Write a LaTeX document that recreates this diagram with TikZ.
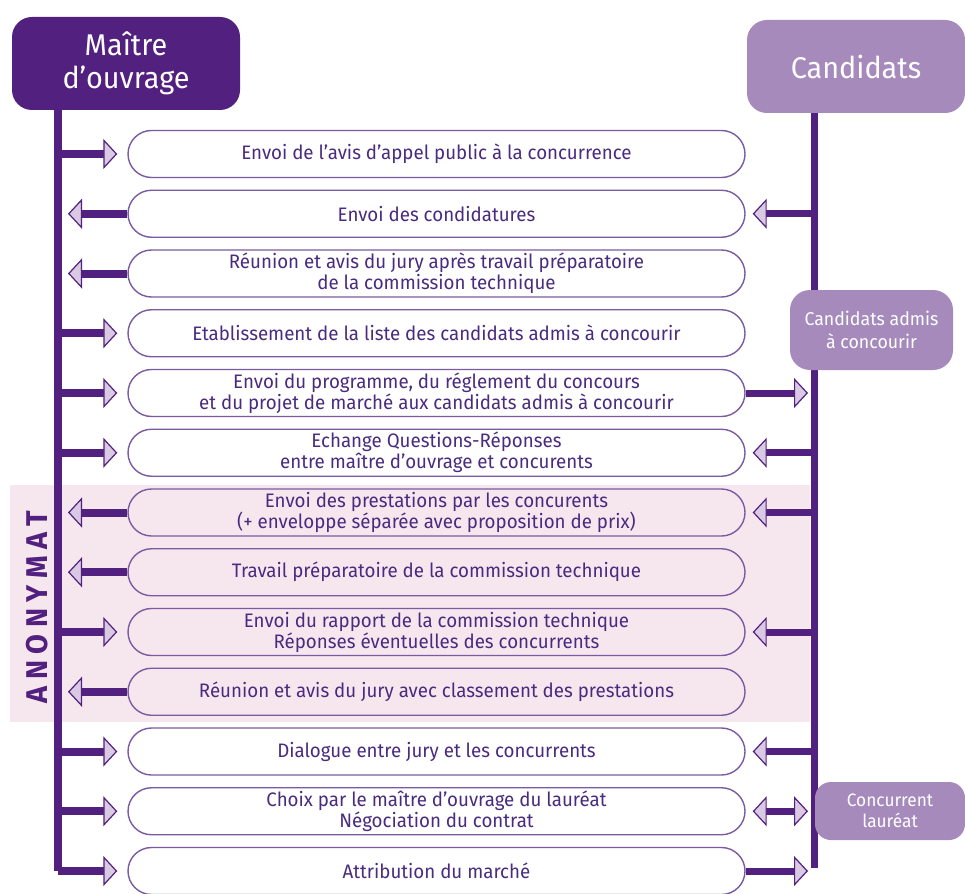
\documentclass[tikz,border=0pt]{standalone}
\usepackage{fontspec}
\setmainfont{Fira Sans}[FakeStretch=0.96]
\usetikzlibrary{arrows.meta}
\definecolor{dpurple}{RGB}{82,33,127}
\definecolor{lpurple}{RGB}{166,138,188}
\definecolor{tipfill}{RGB}{217,201,226}
\definecolor{pinkbg}{RGB}{246,231,239}
\definecolor{boxline}{RGB}{122,90,160}
\definecolor{textc}{RGB}{74,43,127}
\begin{document}
\begin{tikzpicture}[x=1pt,y=-1pt,
  stepbox/.style={draw=boxline, line width=1.4pt, fill=white, rounded corners=23.5pt,
    minimum width=617pt, minimum height=47pt, inner sep=0pt, align=center,
    text=textc, font=\fontsize{19.5}{21}\selectfont},
  pinkbox/.style={stepbox, fill=pinkbg},
  headbox/.style={fill=#1, rounded corners=20pt, inner sep=0pt, align=center,
    text=white, font=\fontsize{30}{33}\selectfont},
  conn/.style={draw=dpurple, line width=8pt},
  connr/.style={draw=dpurple, line width=7pt},
  tip/.tip={Triangle[length=14pt,width=30pt,fill=tipfill,line width=1.2pt]},
  arr/.style={-{tip}},
  dblarr/.style={{tip}-{tip}}
]
\useasboundingbox (0,0) rectangle (965,893);

% anonymat band
\fill[pinkbg] (10,485) rectangle (810,722);
\node[rotate=90, text=dpurple, font=\fontsize{30}{30}\selectfont\bfseries] (anon) at (37,607)
  {A\kern6.5pt N\kern6.5pt O\kern6.5pt N\kern6.5pt Y\kern6.5pt M\kern6.5pt A\kern6.5pt T};

% headers
\node[headbox=dpurple, minimum width=228pt, minimum height=93pt] (mo) at (126,63.5)
  {Maître\\d'ouvrage};
\node[headbox=lpurple, minimum width=218pt, minimum height=93pt] (cand) at (856,66.5)
  {Candidats};

% lane coordinates
\foreach \k in {1,...,13}{
  \pgfmathsetmacro{\yy}{154+(\k-1)*59.75}
  \coordinate (L\k) at (58,\yy);
  \coordinate (R\k) at (814,\yy);
}

% vertical lines
\draw[conn, line join=miter] (mo.south -| L13) -- (L13);
\draw[connr] (cand.south -| R13) -- ([yshift=3.5pt]R13);

% step boxes
\node[stepbox] (b1) at (436.5,154) {Envoi de l'avis d'appel public à la concurrence};
\node[stepbox] (b2) at (436.5,213.75) {Envoi des condidatures};
\node[stepbox] (b3) at (436.5,273.5) {Réunion et avis du jury après travail préparatoire\\de la commission technique};
\node[stepbox] (b4) at (436.5,333.25) {Etablissement de la liste des candidats admis à concourir};
\node[stepbox] (b5) at (436.5,393) {Envoi du programme, du réglement du concours\\et du projet de marché aux candidats admis à concourir};
\node[stepbox] (b6) at (436.5,452.75) {Echange Questions-Réponses\\entre maître d'ouvrage et concurents};
\node[pinkbox] (b7) at (436.5,512.5) {Envoi des prestations par les concurents\\(+ enveloppe séparée avec proposition de prix)};
\node[pinkbox] (b8) at (436.5,572.25) {Travail préparatoire de la commission technique};
\node[pinkbox] (b9) at (436.5,632) {Envoi du rapport de la commission technique\\Réponses éventuelles des concurrents};
\node[pinkbox] (b10) at (436.5,691.75) {Réunion et avis du jury avec classement des prestations};
\node[stepbox] (b11) at (436.5,751.5) {Dialogue entre jury et les concurrents};
\node[stepbox] (b12) at (436.5,811.25) {Choix par le maître d'ouvrage du lauréat\\Négociation du contrat};
\node[stepbox] (b13) at (436.5,871) {Attribution du marché};

% left connectors: into box
\foreach \k in {1,4,5,6,9,11,12,13}{
  \draw[conn, arr] (L\k) -- ([xshift=-10pt]b\k.west);
}
% left connectors: towards maitre d'ouvrage
\foreach \k in {2,3,7,8,10}{
  \draw[conn, arr] (b\k.west) -- ([xshift=10pt]L\k);
}
% right connectors: from candidats into box
\foreach \k in {2,6,7,9,11}{
  \draw[connr, arr] (R\k) -- ([xshift=7pt]b\k.east);
}
% right connectors: towards candidats
\foreach \k in {5,13}{
  \draw[connr, arr] (b\k.east) -- ([xshift=-6pt]R\k);
}
\draw[connr, dblarr] ([xshift=7pt]b12.east) -- ([xshift=-6pt]R12);

% side boxes
\node[headbox=lpurple, rounded corners=20pt, minimum width=163pt, minimum height=80pt,
  font=\fontsize{18.5}{23}\selectfont] (admis) at (871.5,330) {Candidats admis\\à concourir};
\node[headbox=lpurple, rounded corners=16pt, minimum width=150pt, minimum height=58pt,
  font=\fontsize{18}{21}\selectfont] (laur) at (890,811) {Concurrent\\lauréat};
\end{tikzpicture}
\end{document}
